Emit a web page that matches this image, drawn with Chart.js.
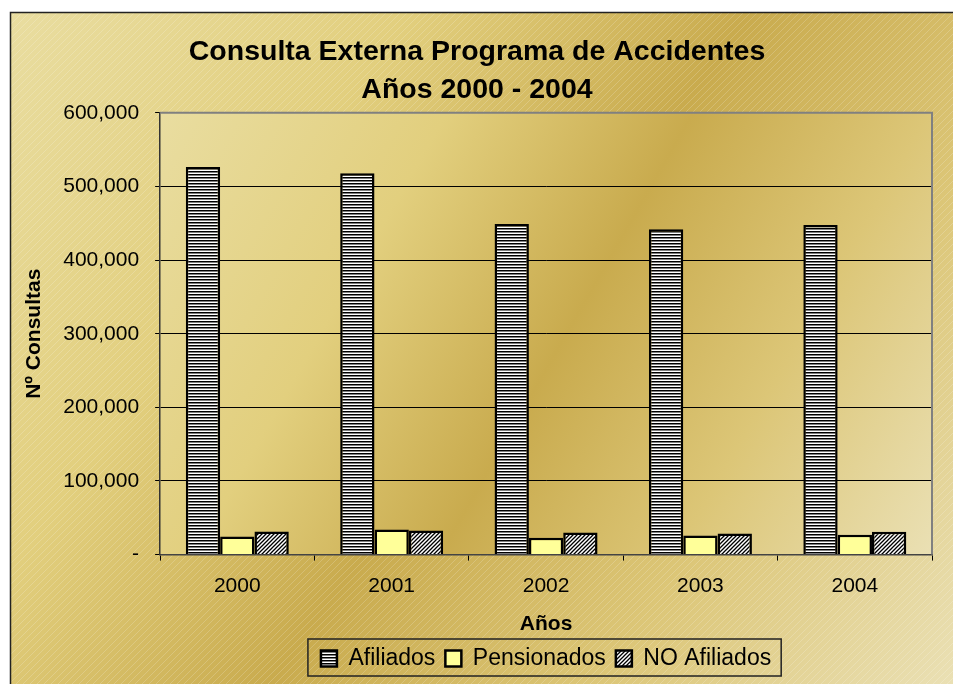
<!DOCTYPE html>
<html>
<head>
<meta charset="utf-8">
<script src="https://cdn.jsdelivr.net/npm/chart.js@4"></script>
<style>
  html, body { margin: 0; background: #fff; }
</style>
</head>
<body>
<canvas id="consultas" width="953" height="684"></canvas>
<script>
const years = ["2000", "2001", "2002", "2003", "2004"];
const afiliados = [526500, 518000, 449000, 442000, 447500];
const pensionados = [24500, 34000, 23000, 26000, 27000];
const noAfiliados = [31300, 32600, 30000, 28500, 31000];
const yMax = 600000;
const yStep = 100000;

const FONT = "'Liberation Sans', Arial, sans-serif";

// bar fill patterns (horizontal stripes, diagonal hatch)
function makePattern(size, draw) {
  const c = document.createElement("canvas");
  c.width = size;
  c.height = size;
  const g = c.getContext("2d");
  g.fillStyle = "#fff";
  g.fillRect(0, 0, size, size);
  draw(g, size);
  return g.createPattern(c, "repeat");
}

const stripes = makePattern(3, (g) => {
  g.fillStyle = "#000";
  g.fillRect(0, 0, 3, 1.5);
});

const hatch = makePattern(4, (g, s) => {
  g.strokeStyle = "#000";
  g.lineWidth = 1.3;
  g.beginPath();
  g.moveTo(-1, s + 1);
  g.lineTo(s + 1, -1);
  g.moveTo(-1, 1);
  g.lineTo(1, -1);
  g.moveTo(s - 1, s + 1);
  g.lineTo(s + 1, s - 1);
  g.stroke();
});

const texture = (() => {
  const c = document.createElement("canvas");
  c.width = 7;
  c.height = 7;
  const g = c.getContext("2d");
  g.strokeStyle = "rgba(255,255,255,0.18)";
  g.lineWidth = 1;
  g.beginPath();
  g.moveTo(-1, 8);
  g.lineTo(8, -1);
  g.stroke();
  return g.createPattern(c, "repeat");
})();

function goldGradient(ctx, x0, y0, x1, y1) {
  const gr = ctx.createLinearGradient(x0, y0, x1, y1);
  gr.addColorStop(0, "#E9DDA0");
  gr.addColorStop(0.28, "#E2CF7E");
  gr.addColorStop(0.52, "#C9AB4E");
  gr.addColorStop(0.75, "#DCC677");
  gr.addColorStop(1, "#EAE0B4");
  return gr;
}

const goldBackground = {
  id: "goldBackground",
  beforeDraw(chart) {
    const { ctx, chartArea: a } = chart;
    const W = chart.width, H = chart.height;
    ctx.save();
    ctx.fillStyle = "#fff";
    ctx.fillRect(0, 0, W, H);
    ctx.fillStyle = goldGradient(ctx, 10, 12, W, H);
    ctx.fillRect(10, 12, W - 10, H - 12);
    ctx.fillStyle = texture;
    ctx.fillRect(10, 12, W - 10, H - 12);
    ctx.strokeStyle = "#222";
    ctx.lineWidth = 1.5;
    ctx.strokeRect(10.5, 12.5, W + 5, H + 5);

    ctx.fillStyle = goldGradient(ctx, a.left, a.top, a.right, a.bottom);
    ctx.fillRect(a.left, a.top, a.right - a.left, a.bottom - a.top);
    ctx.restore();
  },
  afterDraw(chart) {
    const { ctx, chartArea: a, legend } = chart;
    ctx.save();
    // plot border top and right
    ctx.strokeStyle = "#808080";
    ctx.lineWidth = 2;
    ctx.beginPath();
    ctx.moveTo(a.left, a.top);
    ctx.lineTo(a.right, a.top);
    ctx.lineTo(a.right, a.bottom);
    ctx.stroke();
    // box around the legend
    const boxes = legend.legendHitBoxes;
    if (boxes && boxes.length) {
      const l = Math.min(...boxes.map((b) => b.left)) - 13;
      const r = Math.max(...boxes.map((b) => b.left + b.width)) + 10;
      const t = boxes[0].top - 8;
      const h = boxes[0].height + 14;
      ctx.strokeStyle = "#222";
      ctx.lineWidth = 1.5;
      ctx.strokeRect(l, t, r - l, h);
    }
    ctx.restore();
  },
};

const data = {
  labels: years,
  datasets: [
    { label: "Afiliados", data: afiliados, backgroundColor: stripes },
    { label: "Pensionados", data: pensionados, backgroundColor: "#FFFF99" },
    { label: "NO Afiliados", data: noAfiliados, backgroundColor: hatch },
  ],
};

const options = {
  responsive: false,
  animation: false,
  layout: { padding: { left: 22, right: 21, top: 0, bottom: 4 } },
  datasets: {
    bar: {
      categoryPercentage: 0.667,
      barPercentage: 1,
      borderColor: "#000",
      borderWidth: 2.5,
      borderSkipped: "bottom",
    },
  },
  scales: {
    x: {
      grid: {
        offset: true,
        drawOnChartArea: false,
        color: "#000",
        tickLength: 6,
      },
      border: { color: "#444", width: 1.5 },
      ticks: { color: "#000", font: { family: FONT, size: 21 }, padding: 13 },
      title: {
        display: true,
        text: "Años",
        color: "#000",
        font: { family: FONT, size: 21, weight: "bold" },
        padding: { top: 0, bottom: 0 },
      },
    },
    y: {
      min: 0,
      max: yMax,
      grid: { color: "#000", lineWidth: 1, tickLength: 5 },
      border: { color: "#333", width: 1.5 },
      ticks: {
        stepSize: yStep,
        color: "#000",
        padding: 16,
        font: { family: FONT, size: 21 },
        callback: (v) => (v === 0 ? "-" : v.toLocaleString("en-US")),
      },
      title: {
        display: true,
        text: "Nº Consultas",
        color: "#000",
        font: { family: FONT, size: 21, weight: "bold" },
        padding: { top: 0, bottom: 0 },
      },
    },
  },
  plugins: {
    title: {
      display: true,
      text: ["Consulta Externa Programa de Accidentes", "Años 2000 - 2004"],
      color: "#000",
      font: { family: FONT, size: 28.5, weight: "bold", lineHeight: 1.33 },
      padding: { top: 33, bottom: 4 },
    },
    legend: {
      position: "bottom",
      fullSize: false,
      labels: {
        color: "#000",
        boxWidth: 16,
        boxHeight: 16,
        padding: 10,
        font: { family: FONT, size: 23 },
      },
    },
    tooltip: { enabled: false },
  },
};

new Chart(document.getElementById("consultas"), {
  type: "bar",
  data,
  options,
  plugins: [goldBackground],
});
</script>
</body>
</html>
